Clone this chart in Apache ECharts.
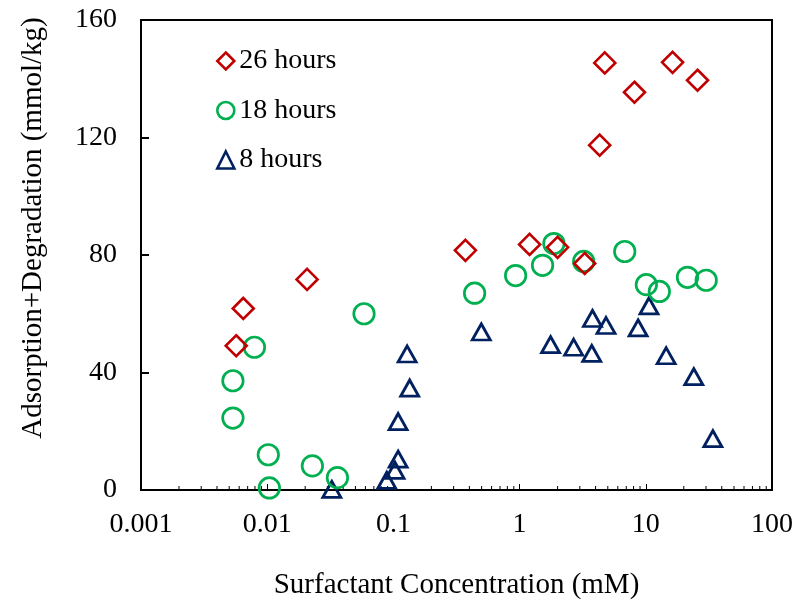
<!DOCTYPE html>
<html>
<head>
<meta charset="utf-8">
<script src="https://cdn.jsdelivr.net/npm/echarts@6/dist/echarts.min.js"></script>
<style>
  html, body { margin: 0; padding: 0; background: #fff; }
  #chart { width: 801px; height: 609px; }
</style>
</head>
<body>
<div id="chart"></div>
<script>
// Surfactant concentration (mM) and adsorption+degradation (mmol/kg) per exposure time
const hours26X = [0.00568, 0.00646, 0.0207, 0.372, 1.20, 2.00, 3.28, 4.31, 4.73, 8.13, 16.3, 25.7];
const hours26Y = [49.1, 61.8, 71.7, 81.6, 83.6, 82.6, 77.1, 117.4, 145.4, 135.4, 145.6, 139.5];

const hours18X = [0.00535, 0.00535, 0.00792, 0.0102, 0.0104, 0.0228, 0.036, 0.0585, 0.44, 0.93, 1.52, 1.87, 3.22, 6.81, 10.1, 12.8, 21.4, 30.1];
const hours18Y = [24.5, 37.2, 48.6, 12.0, 0.7, 8.2, 4.2, 60.0, 67.0, 73.0, 76.5, 83.9, 77.8, 81.2, 69.9, 67.6, 72.4, 71.4];

const hours8X = [0.0325, 0.0886, 0.103, 0.109, 0.109, 0.1285, 0.1346, 0.497, 1.76, 2.68, 3.73, 3.78, 4.84, 8.69, 10.6, 14.5, 24.0, 34.0];
const hours8Y = [0.2, 3.3, 6.7, 10.5, 23.3, 46.3, 34.7, 53.8, 49.5, 48.6, 46.5, 58.4, 56.0, 55.2, 62.7, 45.7, 38.6, 17.5];

const seriesNames = ['26 hours', '18 hours', '8 hours'];
const xTickLabels = ['0.001', '0.01', '0.1', '1', '10', '100'];
const yTickLabels = ['0', '40', '80', '120', '160'];

const FONT = "'Liberation Serif', 'Times New Roman', serif";

function pairs(xs, ys) {
  return xs.map((x, i) => [x, ys[i]]);
}

// Minor tick positions on the log axis: 2..9 within every decade
const minorTickValues = [];
for (let d = -3; d <= 1; d++) {
  for (let k = 2; k <= 9; k++) {
    minorTickValues.push([k * Math.pow(10, d), 0]);
  }
}

const chart = echarts.init(document.getElementById('chart'), null, { renderer: 'canvas' });

chart.setOption({
  animation: false,
  backgroundColor: '#ffffff',
  textStyle: { fontFamily: FONT, color: '#000' },
  grid: {
    left: 141, top: 20, width: 631, height: 470,
    show: true, borderColor: '#000', borderWidth: 2, backgroundColor: 'transparent'
  },
  legend: {
    orient: 'vertical',
    left: 211,
    top: 42,
    itemWidth: 17,
    itemHeight: 17,
    itemGap: 21.5,
    data: seriesNames,
    itemStyle: { borderWidth: 2.6, opacity: 1 },
    textStyle: { fontFamily: FONT, fontSize: 28, color: '#000' }
  },
  xAxis: {
    type: 'log',
    logBase: 10,
    min: 0.001,
    max: 100,
    name: 'Surfactant Concentration (mM)',
    nameLocation: 'middle',
    nameGap: 81,
    nameTextStyle: { fontFamily: FONT, fontSize: 29, color: '#000' },
    axisLine: { show: true, lineStyle: { color: '#000', width: 2 } },
    axisTick: { show: true, inside: true, length: 6, lineStyle: { color: '#000', width: 1 } },
    splitLine: { show: false },
    axisLabel: {
      fontFamily: FONT, fontSize: 28, color: '#000', margin: 21,
      formatter: function (v) {
        const idx = Math.round(Math.log10(v)) + 3;
        return xTickLabels[idx] !== undefined ? xTickLabels[idx] : '';
      }
    }
  },
  yAxis: {
    type: 'value',
    min: 0,
    max: 160,
    interval: 40,
    name: 'Adsorption+Degradation (mmol/kg)',
    nameLocation: 'middle',
    nameGap: 93,
    nameTextStyle: { fontFamily: FONT, fontSize: 29, color: '#000', padding: [0, 0, 0, 54] },
    axisLine: { show: true, lineStyle: { color: '#000', width: 2 } },
    axisTick: { show: true, inside: true, length: 8, lineStyle: { color: '#000', width: 2 } },
    splitLine: { show: false },
    axisLabel: {
      fontFamily: FONT, fontSize: 28, color: '#000', margin: 24,
      formatter: function (v) {
        const idx = Math.round(v / 40);
        return yTickLabels[idx] !== undefined ? yTickLabels[idx] : '';
      }
    }
  },
  series: [
    {
      type: 'custom',
      name: 'minorTicks',
      silent: true,
      data: minorTickValues,
      encode: { x: 0, y: 1 },
      clip: false,
      renderItem: function (params, api) {
        const p = api.coord([api.value(0), api.value(1)]);
        return {
          type: 'line',
          shape: { x1: p[0], y1: p[1], x2: p[0], y2: p[1] - 4 },
          style: { stroke: '#000', lineWidth: 1 }
        };
      }
    },
    {
      type: 'scatter',
      name: seriesNames[2],
      data: pairs(hours8X, hours8Y),
      symbol: 'triangle',
      symbolSize: [18, 16],
      itemStyle: { color: 'rgba(255,255,255,0)', borderColor: '#002060', borderWidth: 2.8, opacity: 1 }
    },
    {
      type: 'scatter',
      name: seriesNames[1],
      data: pairs(hours18X, hours18Y),
      symbol: 'circle',
      symbolSize: 20.5,
      itemStyle: { color: 'rgba(255,255,255,0)', borderColor: '#00B050', borderWidth: 2.7, opacity: 1 }
    },
    {
      type: 'scatter',
      name: seriesNames[0],
      data: pairs(hours26X, hours26Y),
      symbol: 'diamond',
      symbolSize: 21,
      itemStyle: { color: 'rgba(255,255,255,0)', borderColor: '#C00000', borderWidth: 2.6, opacity: 1 }
    }
  ]
});
</script>
</body>
</html>
